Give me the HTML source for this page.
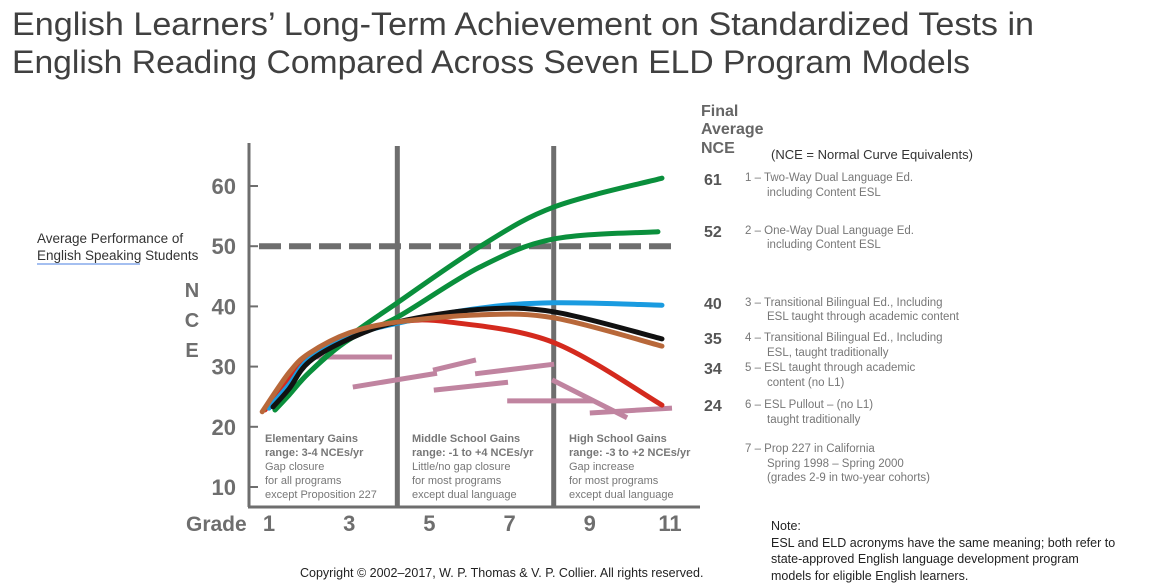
<!DOCTYPE html>
<html><head><meta charset="utf-8"><style>
html,body{margin:0;padding:0;background:#fff;}
svg{display:block;font-family:"Liberation Sans",sans-serif;}
</style></head><body>
<svg id="chart" width="1151" height="587" viewBox="0 0 1151 587">
<g fill="#404040" font-size="32">
<text x="12" y="35" textLength="1022" lengthAdjust="spacingAndGlyphs">English Learners’ Long-Term Achievement on Standardized Tests in</text>
<text x="12" y="73" textLength="958" lengthAdjust="spacingAndGlyphs">English Reading Compared Across Seven ELD Program Models</text>
</g>
<g fill="#333" font-size="13.5">
<text x="37" y="243">Average Performance of</text>
<text x="37" y="260">English Speaking Students</text>
<line x1="37" y1="264" x2="140" y2="264" stroke="#4a7fe0" stroke-width="1"/>
</g>
<g id="axes"></g>
<g id="marks"></g>
<g font-size="11" fill="#777">
<text x="265" y="442" font-weight="bold">Elementary Gains</text>
<text x="265" y="456" font-weight="bold">range: 3-4 NCEs/yr</text>
<text x="265" y="470">Gap closure</text>
<text x="265" y="484">for all programs</text>
<text x="265" y="498">except Proposition 227</text>
<text x="412" y="442" font-weight="bold">Middle School Gains</text>
<text x="412" y="456" font-weight="bold">range: -1 to +4 NCEs/yr</text>
<text x="412" y="470">Little/no gap closure</text>
<text x="412" y="484">for most programs</text>
<text x="412" y="498">except dual language</text>
<text x="569" y="442" font-weight="bold">High School Gains</text>
<text x="569" y="456" font-weight="bold">range: -3 to +2 NCEs/yr</text>
<text x="569" y="470">Gap increase</text>
<text x="569" y="484">for most programs</text>
<text x="569" y="498">except dual language</text>
</g>
<g>
<g fill="#666" font-weight="bold" font-size="16">
<text x="701" y="116">Final</text><text x="701" y="134">Average</text><text x="701" y="153">NCE</text>
</g>
<text x="771" y="159" font-size="13" fill="#333">(NCE = Normal Curve Equivalents)</text>
<g fill="#555" font-weight="bold" font-size="16">
<text x="704" y="185">61</text><text x="704" y="237">52</text><text x="704" y="309">40</text>
<text x="704" y="344">35</text><text x="704" y="374">34</text><text x="704" y="411">24</text>
</g>
<g fill="#777" font-size="11.5">
<text x="745" y="181">1 – Two-Way Dual Language Ed.</text><text x="767" y="196">including Content ESL</text>
<text x="745" y="234">2 – One-Way Dual Language Ed.</text><text x="767" y="248">including Content ESL</text>
<text x="745" y="306">3 – Transitional Bilingual Ed., Including</text><text x="767" y="320">ESL taught through academic content</text>
<text x="745" y="341">4 – Transitional Bilingual Ed., Including</text><text x="767" y="356">ESL, taught traditionally</text>
<text x="745" y="371">5 – ESL taught through academic</text><text x="767" y="386">content (no L1)</text>
<text x="745" y="408">6 – ESL Pullout – (no L1)</text><text x="767" y="423">taught traditionally</text>
<text x="745" y="452">7 – Prop 227 in California</text><text x="767" y="467">Spring 1998 – Spring 2000</text><text x="767" y="481">(grades 2-9 in two-year cohorts)</text>
</g>
</g>
<g font-size="12.5" fill="#222">
<text x="771" y="530">Note:</text>
<text x="771" y="547">ESL and ELD acronyms have the same meaning; both refer to</text>
<text x="771" y="563">state-approved English language development program</text>
<text x="771" y="580">models for eligible English learners.</text>
<text x="300" y="577">Copyright © 2002–2017, W. P. Thomas &amp; V. P. Collier. All rights reserved.</text>
</g>
</svg>
<script>
const yTicks=[10,20,30,40,50,60];
const xTicks=[1,3,5,7,9,11];
const dividerGrades=[4.2,8.1];
const referenceValue=50;
const seriesNames=["two-way-dual","one-way-dual","transitional-content","transitional-traditional","esl-content","esl-pullout"];
const seriesColors=["#0a8f3c","#0a8f3c","#1a9be0","#111111","#b8683a","#d42a1e"];
const sGrades=[
 [1.15,1.5,2,3,4.2,6.25,8.1,10.8],
 [1.15,1.5,2,3,4.2,6.25,8.1,10.7],
 [1.0,1.5,2,3,4.2,6.25,8.1,10.8],
 [1.1,1.5,2,3,4.2,6.25,8.1,10.8],
 [0.83,1.5,2,3,4.2,6.25,8.1,10.8],
 [0.9,1.5,2,3,4.2,5.5,8.1,10.8]];
const sValues=[
 [22.8,25.3,29,35,40.6,49.9,56.5,61.3],
 [22.8,25.3,29,34.5,38.2,46.5,51.2,52.4],
 [23.1,27,31.2,35,37.2,39.7,40.6,40.2],
 [23.3,26.3,30.8,34.6,37.4,39.5,39.1,34.6],
 [22.5,29,32.2,35.6,37.4,38.6,38.1,33.4],
 [22.8,27.8,31.6,35.2,37.4,37.4,34,23.6]];
const prop227=[[1.9,31.6,4.07,31.6],[3.09,26.6,5.19,28.9],[5.09,29.4,6.16,31.1],[6.14,28.8,8.11,30.4],[5.11,26.1,6.96,27.4],[6.94,24.3,9.08,24.3],[8.06,27.8,9.93,21.5],[9.0,22.3,11.05,23.1]];
const X=g=>269+(g-1)*40.1;
const Y=v=>186+(60-v)*6.02;
const NS="http://www.w3.org/2000/svg";
function mk(tag,attrs,parent,txt){const e=document.createElementNS(NS,tag);for(const k in attrs)e.setAttribute(k,attrs[k]);if(txt!==undefined)e.textContent=txt;parent.appendChild(e);return e;}
const axes=document.getElementById('axes'),marks=document.getElementById('marks');
const G="#6e6e6e";
let e=mk('line',{x1:249,y1:143,x2:249,y2:507,stroke:G,'stroke-width':3},axes);


e=mk('line',{x1:248,y1:507,x2:700,y2:507,stroke:G,'stroke-width':3},axes);


yTicks.forEach(v=>{
 const t=mk('line',{x1:249,x2:258,y1:Y(v),y2:Y(v),stroke:G,'stroke-width':2},axes);
 
 
 const l=mk('text',{x:236,y:Y(v)+8,'text-anchor':'end','font-size':22,'font-weight':'bold',fill:G},axes,v);
 
 
});
xTicks.forEach(g=>{
 const l=mk('text',{x:X(g),y:531,'text-anchor':'middle','font-size':22,'font-weight':'bold',fill:G},axes,g);
 
 
});
e=mk('text',{x:186,y:531,'font-size':21,'font-weight':'bold',fill:G},axes,'Grade');


['N','C','E'].forEach((c,i)=>{
 const l=mk('text',{x:192,y:297+i*30,'text-anchor':'middle','font-size':20,'font-weight':'bold',fill:G},axes,c);
 
 
});
dividerGrades.forEach(g=>{
 const l=mk('line',{x1:X(g),x2:X(g),y1:146,y2:507,stroke:G,'stroke-width':5},axes);
 
 
});
e=mk('line',{x1:259,x2:672,y1:Y(referenceValue),y2:Y(referenceValue),stroke:G,'stroke-width':6,'stroke-dasharray':'22 8'},axes);


prop227.forEach(s=>{
 const l=mk('line',{x1:X(s[0]),y1:Y(s[1]),x2:X(s[2]),y2:Y(s[3]),stroke:'#c084a0','stroke-width':5},marks);
 
 
});
function smooth(pts){let d=`M${pts[0][0]},${pts[0][1]}`;for(let i=0;i<pts.length-1;i++){const p0=pts[i-1]||pts[i],p1=pts[i],p2=pts[i+1],p3=pts[i+2]||p2;
 d+=` C${p1[0]+(p2[0]-p0[0])/6},${p1[1]+(p2[1]-p0[1])/6} ${p2[0]-(p3[0]-p1[0])/6},${p2[1]-(p3[1]-p1[1])/6} ${p2[0]},${p2[1]}`;}return d;}
[5,0,1,2,3,4].forEach(i=>{
 const pts=sGrades[i].map((g,j)=>[X(g),Y(sValues[i][j])]);
 const p=mk('path',{d:smooth(pts),fill:'none',stroke:seriesColors[i],'stroke-width':5,'stroke-linecap':'round'},marks);
 
 
});
</script>
</body></html>
